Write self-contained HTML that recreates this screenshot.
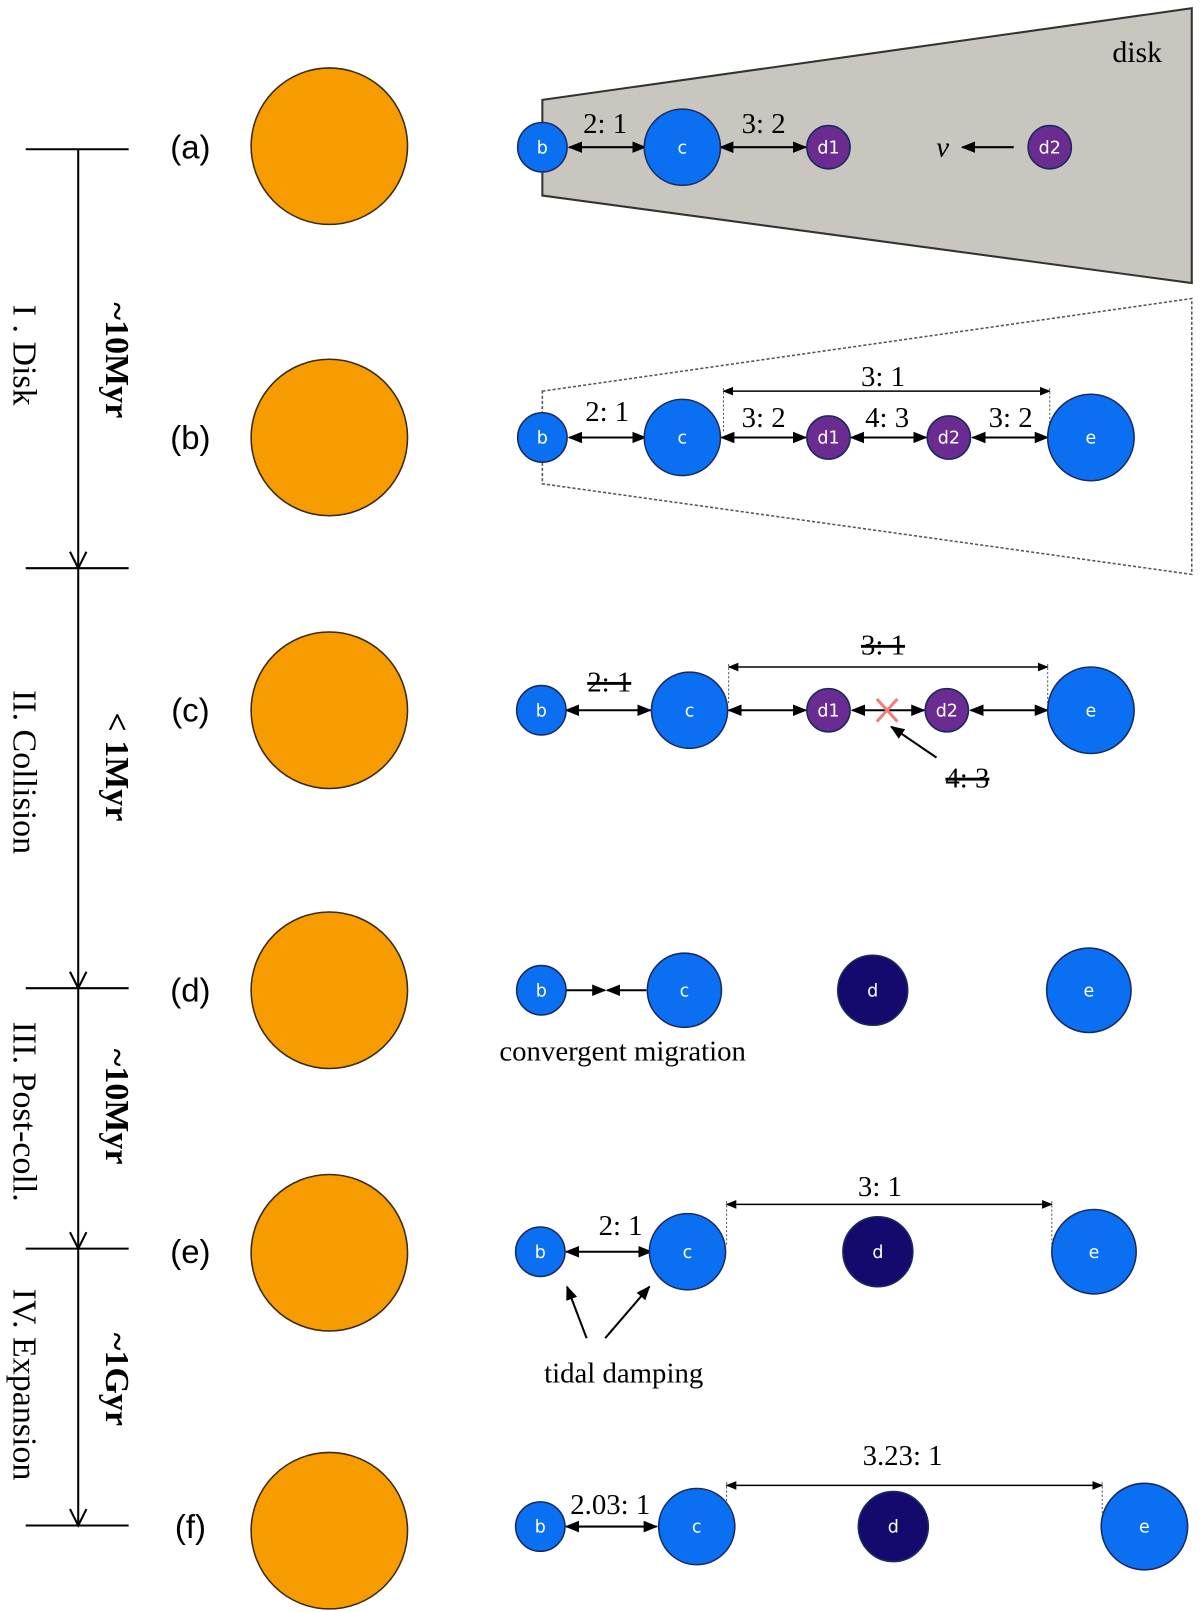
<!DOCTYPE html>
<html><head><meta charset="utf-8"><style>html,body{margin:0;padding:0;background:#fff}svg{display:block}</style></head>
<body>
<svg id="fig" width="1200" height="1612" viewBox="0 0 1166 1566" preserveAspectRatio="none" xmlns="http://www.w3.org/2000/svg">
<defs>
<marker id="ah" viewBox="0 0 10 10" refX="9" refY="5" markerWidth="7" markerHeight="7" orient="auto-start-reverse"><path d="M0,1 L10,5 L0,9 z" fill="#000"/></marker>
</defs>
<g id="timeline" stroke="#000" stroke-width="2">
<line x1="76" y1="145" x2="76" y2="1482"/>
<line x1="25" y1="145" x2="125" y2="145"/><line x1="25" y1="552" x2="125" y2="552"/>
<line x1="25" y1="960" x2="125" y2="960"/><line x1="25" y1="1213" x2="125" y2="1213"/>
<line x1="25" y1="1482" x2="125" y2="1482"/>
<path d="M68,536 L76,552 L84,536" fill="none"/><path d="M68,944 L76,960 L84,944" fill="none"/>
<path d="M68,1197 L76,1213 L84,1197" fill="none"/><path d="M68,1466 L76,1482 L84,1466" fill="none"/>
</g>
<g font-family="Liberation Serif, serif" font-size="33" fill="#000" text-anchor="middle">
<text transform="translate(13,345) rotate(90)">I . Disk</text>
<text transform="translate(13,750) rotate(90)">II. Collision</text>
<text transform="translate(13,1080) rotate(90)">III. Post-coll.</text>
<text transform="translate(13,1345) rotate(90)">IV. Expansion</text>
<g font-weight="bold">
<text transform="translate(103,350) rotate(90)">~10Myr</text>
<text transform="translate(103,745) rotate(90)">&lt; 1Myr</text>
<text transform="translate(103,1075) rotate(90)">~10Myr</text>
<text transform="translate(103,1340) rotate(90)">~1Gyr</text>
</g></g>
<polygon points="527,97 1158,8 1158,275 527,190" fill="#c9c6bf" stroke="#333" stroke-width="2"/>
<text x="1105" y="60" font-family="Liberation Serif, serif" font-size="29" text-anchor="middle">disk</text>
<polygon points="527,380 1158,290 1158,558 527,470" fill="none" stroke="#555" stroke-width="1.5" stroke-dasharray="3,2"/>
<g id="dyn"></g>
</svg>
<script>
const rowLabels=['(a)','(b)','(c)','(d)','(e)','(f)'];
const rowY=[143,425,690,962,1216,1483];
const starY=[142,425,690,962,1217,1487];
const planets=[
[['b',527,24,'blue'],['c',663,37,'blue'],['d1',805,21,'purple'],['d2',1020,21,'purple']],
[['b',527,24,'blue'],['c',663,37,'blue'],['d1',805,21,'purple'],['d2',922,21,'purple'],['e',1060,42,'blue']],
[['b',526,24,'blue'],['c',670,37,'blue'],['d1',805,21,'purple'],['d2',920,21,'purple'],['e',1060,42,'blue']],
[['b',526,24,'blue'],['c',665,36,'blue'],['d',848,34,'navy'],['e',1058,41,'blue']],
[['b',525,24,'blue'],['c',668,37,'blue'],['d',853,34,'navy'],['e',1063,41,'blue']],
[['b',525,24,'blue'],['c',677,37,'blue'],['d',868,34,'navy'],['e',1112,42,'blue']]];
const arrows=[
[0,553,627,0,'2: 1',588,-14,0,1],[0,700,783,0,'3: 2',742,-14,0,1],[0,985,935,0,'',0,0,0,0],
[1,553,627,0,'2: 1',590,-16,0,1],[1,701,783,0,'3: 2',742,-10,0,1],[1,827,900,0,'4: 3',862,-10,0,1],[1,945,1018,0,'3: 2',982,-10,0,1],[1,703,1020,-45,'3: 1',858,-50,0,1],
[2,550,632,0,'2: 1',592,-18,1,1],[2,708,783,0,'',0,0,0,1],[2,828,898,0,'',0,0,0,1],[2,943,1018,0,'',0,0,0,1],[2,708,1018,-42,'3: 1',858,-54,1,1],
[3,550,588,0,'',0,0,0,0],[3,628,590,0,'',0,0,0,0],
[4,550,633,0,'2: 1',603,-16,0,1],[4,706,1022,-46,'3: 1',855,-54,0,1],
[5,550,638,0,'2.03: 1',593,-12,0,1],[5,706,1071,-40,'3.23: 1',877,-60,0,1]];
const fills={blue:'#0a6ff0',purple:'#6a2c91',navy:'#140a6e'};
const NS='http://www.w3.org/2000/svg';
const g=document.getElementById('dyn');
function mk(t,a,p){const e=document.createElementNS(NS,t);for(const k in a)e.setAttribute(k,a[k]);(p||g).appendChild(e);return e;}
rowLabels.forEach((l,i)=>{
 const s=mk('circle',{cx:320,cy:starY[i],r:76,fill:'#f79c00',stroke:'#3a2a10','stroke-width':1.5});
 
 
 const t=mk('text',{x:185,y:rowY[i]+11,'font-family':'Liberation Sans, sans-serif','font-size':32,'text-anchor':'middle'});
 t.textContent=l;
 
 
});
arrows.forEach(a=>{
 const y=rowY[a[0]]+a[3];
 const ln=mk('line',{x1:a[1],y1:y,x2:a[2],y2:y,stroke:'#000','stroke-width':a[3]?1.5:2,'marker-end':'url(#ah)'});
 if(a[8])ln.setAttribute('marker-start','url(#ah)');
 
 
 if(a[3]){[a[1],a[2]].forEach(x=>{const d=mk('line',{x1:x,y1:y-3,x2:x,y2:rowY[a[0]]-5,stroke:'#555','stroke-dasharray':'2,2','stroke-width':1});
  
  });}
 if(a[4]){const t=mk('text',{x:a[5],y:rowY[a[0]]+a[6],'font-family':'Liberation Serif, serif','font-size':28,'text-anchor':'middle'});
  t.textContent=a[4];
  if(a[7])t.setAttribute('text-decoration','line-through');
  
  }
});
planets.forEach((row,i)=>row.forEach(p=>{
 const c=mk('circle',{cx:p[1],cy:rowY[i],r:p[2],fill:fills[p[3]],stroke:'#1a2a60','stroke-width':1.5});
 
 
 const t=mk('text',{x:p[1],y:rowY[i]+6,'font-family':'DejaVu Sans, sans-serif','font-size':17,fill:'#fff','text-anchor':'middle'});
 t.textContent=p[0];
 
 
}));
const extra=[
 ['text',{x:916,y:152,'font-family':'Liberation Serif, serif','font-size':28,'font-style':'italic','text-anchor':'middle'},'v','velocity-label'],
 ['text',{x:605,y:1030,'font-family':'Liberation Serif, serif','font-size':28,'text-anchor':'middle'},'convergent migration','convergent-label'],
 ['text',{x:606,y:1343,'font-family':'Liberation Serif, serif','font-size':28,'text-anchor':'middle'},'tidal damping','tidal-label'],
 ['text',{x:940,y:765,'font-family':'Liberation Serif, serif','font-size':28,'text-anchor':'middle','text-decoration':'line-through'},'4: 3','broken-43-label']];
extra.forEach(e=>{const t=mk(e[0],e[1]);t.textContent=e[2];
 
 });
[[910,736,866,706],[570,1300,551,1250],[588,1300,631,1250]].forEach(p=>{
 const l=mk('line',{x1:p[0],y1:p[1],x2:p[2],y2:p[3],stroke:'#000','stroke-width':2,'marker-end':'url(#ah)'});
 
 });
const x=mk('path',{d:'M852,679 L872,701 M872,679 L852,701',stroke:'#f08080','stroke-width':3});


</script>
</body></html>
